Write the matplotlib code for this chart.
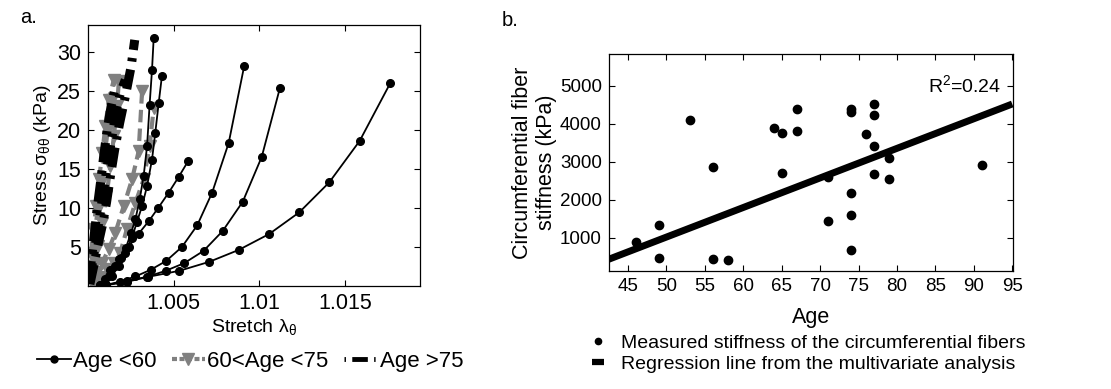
import matplotlib
matplotlib.use("Agg")
import matplotlib.pyplot as plt
from matplotlib.lines import Line2D

plt.rcParams['font.family'] = ['Liberation Sans', 'DejaVu Sans']
plt.rcParams['mathtext.fontset'] = 'custom'
plt.rcParams['mathtext.rm'] = 'Liberation Sans'
plt.rcParams['mathtext.it'] = 'Liberation Sans:italic'

# ---------------- Panel a data (stretch, stress kPa) ----------------
young_x = [
    [1.00108, 1.00228, 1.00351, 1.00533, 1.00708, 1.00881, 1.01059, 1.01234, 1.01409, 1.01587, 1.01766],
    [1.00108, 1.00228, 1.00345, 1.00453, 1.00562, 1.00675, 1.00787, 1.00904, 1.01015, 1.01121],
    [1.00108, 1.00185, 1.00277, 1.00366, 1.00457, 1.00549, 1.00638, 1.00725, 1.00822, 1.00912],
    [1.00073, 1.00102, 1.00131, 1.00182, 1.00238, 1.00296, 1.00356, 1.00411, 1.00471, 1.00529, 1.00587],
    [1.00073, 1.00121, 1.00160, 1.00193, 1.00222, 1.00252, 1.00277, 1.00302, 1.00325, 1.00345, 1.00360, 1.00374, 1.00384],
    [1.00092, 1.00141, 1.00180, 1.00218, 1.00257, 1.00286, 1.00316, 1.00345, 1.00374, 1.00393, 1.00413, 1.00432],
]
young_y = [
    [0.11, 0.54, 1.17, 1.94, 3.09, 4.62, 6.66, 9.42, 13.25, 18.56, 25.96],
    [0.11, 0.66, 1.17, 1.94, 2.92, 4.49, 7.04, 10.78, 16.52, 25.32],
    [0.15, 0.54, 1.22, 2.07, 3.21, 5.00, 7.76, 11.93, 18.31, 28.09],
    [0.11, 0.88, 2.07, 3.43, 5.04, 6.70, 8.32, 10.02, 11.93, 13.93, 16.05],
    [0.11, 1.30, 2.58, 3.64, 4.92, 6.83, 8.53, 11.08, 14.06, 17.88, 23.19, 27.66, 31.79],
    [0.11, 1.30, 2.58, 4.28, 6.19, 8.19, 10.23, 12.78, 16.18, 19.59, 23.41, 26.89],
]
mid_x = [
    [1.00044, 1.00073, 1.00112, 1.00151, 1.00189, 1.00228, 1.00277, 1.00325, 1.00360, 1.00384],
    [1.00024, 1.00053, 1.00083, 1.00121, 1.00160, 1.00209, 1.00257, 1.00296, 1.00316],
    [1.00015, 1.00034, 1.00057, 1.00083, 1.00108, 1.00131, 1.00151, 1.00170, 1.00180],
    [1.00011, 1.00024, 1.00040, 1.00057, 1.00077, 1.00096, 1.00116, 1.00141],
    [1.00007, 1.00018, 1.00032, 1.00048, 1.00065, 1.00083, 1.00102, 1.00121, 1.00151],
]
mid_y = [
    [0.11, 1.09, 2.15, 3.00, 4.28, 7.34, 10.65, 13.63, 17.88, 22.77],
    [0.45, 1.73, 3.00, 4.70, 6.83, 10.23, 13.63, 17.24, 24.90],
    [0.66, 2.58, 5.13, 8.10, 11.50, 15.33, 19.16, 22.98, 26.17],
    [1.30, 3.85, 6.83, 9.80, 13.20, 16.61, 20.01, 23.83],
    [1.73, 4.28, 7.25, 10.23, 13.63, 17.03, 20.43, 23.83, 26.38],
]
old_x = [
    [1.00011, 1.00034, 1.00057, 1.00083, 1.00108, 1.00131, 1.00156, 1.00185, 1.00218, 1.00252, 1.00273],
    [1.00009, 1.00026, 1.00048, 1.00069, 1.00092, 1.00116, 1.00141, 1.00166, 1.00189, 1.00218],
    [1.00007, 1.00020, 1.00036, 1.00053, 1.00073, 1.00092, 1.00112, 1.00135, 1.00160],
]
old_y = [
    [0.24, 2.58, 5.13, 7.68, 10.65, 14.06, 17.46, 20.86, 24.26, 28.09, 31.49],
    [0.45, 3.00, 5.98, 8.95, 12.36, 15.76, 19.16, 22.56, 24.68, 26.38],
    [0.66, 3.43, 6.40, 9.80, 13.20, 16.61, 20.01, 22.98, 25.53],
]
a_xticks = [1.005, 1.01, 1.015]
a_xticklabels = ['1.005', '1.01', '1.015']
a_yticks = [5, 10, 15, 20, 25, 30]
a_legend = ['Age <60', '60<Age <75', 'Age >75']

# ---------------- Panel b data ----------------
age = [46, 49, 49, 53, 56, 56, 58, 64, 65, 65, 67, 67, 71, 71,
       74, 74, 74, 74, 74, 76, 77, 77, 77, 77, 79, 79, 91]
stiffness = [880, 1325, 450, 4100, 2845, 430, 420, 3895, 3755, 2710, 4380, 3815, 2600, 1440,
             4395, 4310, 2185, 1590, 685, 3730, 4510, 4230, 3410, 2685, 3105, 2535, 2905]
reg_age = [42.5, 95.0]
reg_stiff = [430, 4515]
b_xticks = [45, 50, 55, 60, 65, 70, 75, 80, 85, 90, 95]
b_yticks = [1000, 2000, 3000, 4000, 5000]
r2_text = 'R$^{2}$=0.24'
b_legend = ['Measured stiffness of the circumferential fibers',
            'Regression line from the multivariate analysis']

fig = plt.figure(figsize=(11.11, 3.89), dpi=100)

# ---------------- Panel a ----------------
axa = fig.add_axes([0.0792, 0.2648, 0.2989, 0.671])
grey = '#808080'
dashdot = (0, (2.2, 0.9, 0.4, 0.9))
for xs, ys in zip(young_x, young_y):
    axa.plot(xs, ys, '-', color='black', lw=1.3, marker='o', ms=5.5, zorder=3)
for xs, ys in zip(mid_x, mid_y):
    axa.plot(xs, ys, color=grey, lw=3, linestyle=(0, (3, 1.5)), marker='v', ms=9,
             mec=grey, mfc=grey, zorder=2)
for xs, ys in zip(old_x, old_y):
    axa.plot(xs, ys, color='black', lw=6.5, linestyle=dashdot, solid_capstyle='butt',
             dash_capstyle='butt', zorder=2.5)

axa.set_xlim(1.0, 1.0194)
axa.set_ylim(0, 33.4)
axa.set_xticks(a_xticks)
axa.set_xticklabels(a_xticklabels)
axa.set_yticks(a_yticks)
axa.tick_params(direction='in', top=True, right=True, length=4, labelsize=15.5, pad=5)
axa.set_xlabel(r'Stretch $\mathregular{\lambda_{\theta}}$', fontsize=14, labelpad=2)
axa.set_ylabel(r'Stress $\mathregular{\sigma_{\theta\theta}}$ (kPa)', fontsize=14, labelpad=3)
for s in axa.spines.values():
    s.set_linewidth(0.9)

handles_a = [
    Line2D([], [], color='black', lw=1.3, marker='o', ms=5),
    Line2D([], [], color=grey, lw=3, linestyle=(0, (1.2, 0.6)), marker='v', ms=8, mec=grey),
    Line2D([], [], color='black', lw=3.5, linestyle=(0, (0.3, 1.3, 3.2, 1.3)), dash_capstyle='butt'),
]
fig.legend(handles_a, a_legend, loc='center left', bbox_to_anchor=(0.0255, 0.07),
           ncol=3, frameon=False, fontsize=16, handlelength=1.5, handletextpad=0.1,
           columnspacing=0.7, borderaxespad=0)

fig.text(0.018, 0.955, 'a.', fontsize=14.5, ha='left', va='center')
fig.text(0.452, 0.948, 'b.', fontsize=14.5, ha='left', va='center')

# ---------------- Panel b ----------------
axb = fig.add_axes([0.548, 0.3033, 0.3638, 0.5578])
axb.plot(reg_age, reg_stiff, color='black', lw=5, solid_capstyle='butt', zorder=2)
axb.plot(age, stiffness, 'o', color='black', ms=6, zorder=3)
axb.set_xlim(42.5, 95.1)
axb.set_ylim(120, 5830)
axb.set_xticks(b_xticks)
axb.set_yticks(b_yticks)
axb.tick_params(direction='in', top=True, right=True, length=4, labelsize=13.5, pad=5)
axb.set_xlabel('Age', fontsize=15.5, labelpad=9)
axb.set_ylabel('Circumferential fiber\nstiffness (kPa)', fontsize=15.5, labelpad=2, linespacing=1.2)
axb.text(84.0, 5000, r2_text, fontsize=14, ha='left', va='center')
for s in axb.spines.values():
    s.set_linewidth(0.9)

handles_b = [
    Line2D([], [], color='black', marker='o', ms=4.5, lw=0),
    Line2D([], [], color='black', lw=4.5, solid_capstyle='butt'),
]
fig.legend(handles_b, b_legend, loc='upper left', bbox_to_anchor=(0.526, 0.16),
           ncol=1, frameon=False, fontsize=14, handlelength=0.6, handletextpad=0.9,
           labelspacing=0.15, borderaxespad=0)

fig.savefig('out.png', dpi=100)
